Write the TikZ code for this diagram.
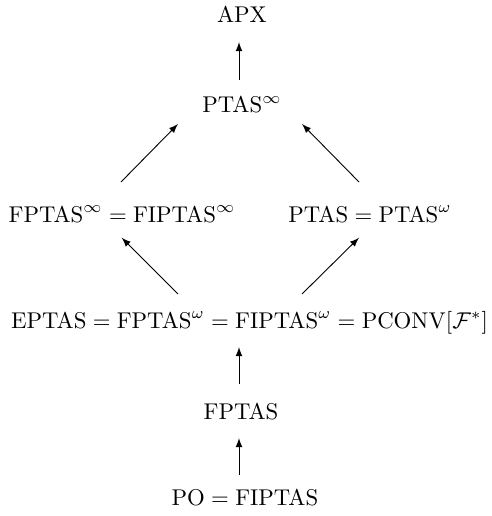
\documentclass[tikz,border=0pt]{standalone}
\usetikzlibrary{arrows}

\begin{document}
\begin{tikzpicture}[x=0.4386pt, y=-0.4386pt,
    cls/.style={anchor=base, inner sep=0pt},
    arr/.style={-latex, thin}]

    \useasboundingbox (0,0) rectangle (492,516);

    % Classes
    \node[cls] (apx) at (242,23) {$\mathrm{APX}$};
    \node[cls] (ptasinf) at (242,113) {$\mathrm{PTAS}^\infty$};
    \node[cls] (fptasinf) at (122,222) {$\mathrm{FPTAS}^\infty = \mathrm{FIPTAS}^\infty$};
    \node[cls] (ptasom) at (370,222) {$\mathrm{PTAS} = \mathrm{PTAS}^\omega$};
    \node[cls] (eptas) at (249.5,328) {$\mathrm{EPTAS} = \mathrm{FPTAS}^\omega = \mathrm{FIPTAS}^\omega = \mathrm{PCONV}[\mathcal{F}^*]$};
    \node[cls] (fptas) at (241,419) {$\mathrm{FPTAS}$};
    \node[cls] (po) at (245,505) {$\mathrm{PO} = \mathrm{FIPTAS}$};

    % Inclusions
    \draw[arr] ([shift={(-3,-33)}]ptasinf.base) -- ([shift={(-3,19)}]apx.base);
    \draw[arr] ([shift={(-1,-40)}]fptasinf.base) -- ([shift={(-64,11)}]ptasinf.base);
    \draw[arr] ([shift={(-11,-40)}]ptasom.base) -- ([shift={(60,11)}]ptasinf.base);
    \draw[arr] ([shift={(-71.5,-34)}]eptas.base) -- ([shift={(-0.3,15.7)}]fptasinf.base);
    \draw[arr] ([shift={(52.5,-34)}]eptas.base) -- ([shift={(-11,15.7)}]ptasom.base);
    \draw[arr] ([shift={(-2,-35)}]fptas.base) -- ([shift={(-10.5,19)}]eptas.base);
    \draw[arr] ([shift={(-6,-30)}]po.base) -- ([shift={(-2,19)}]fptas.base);

\end{tikzpicture}
\end{document}
